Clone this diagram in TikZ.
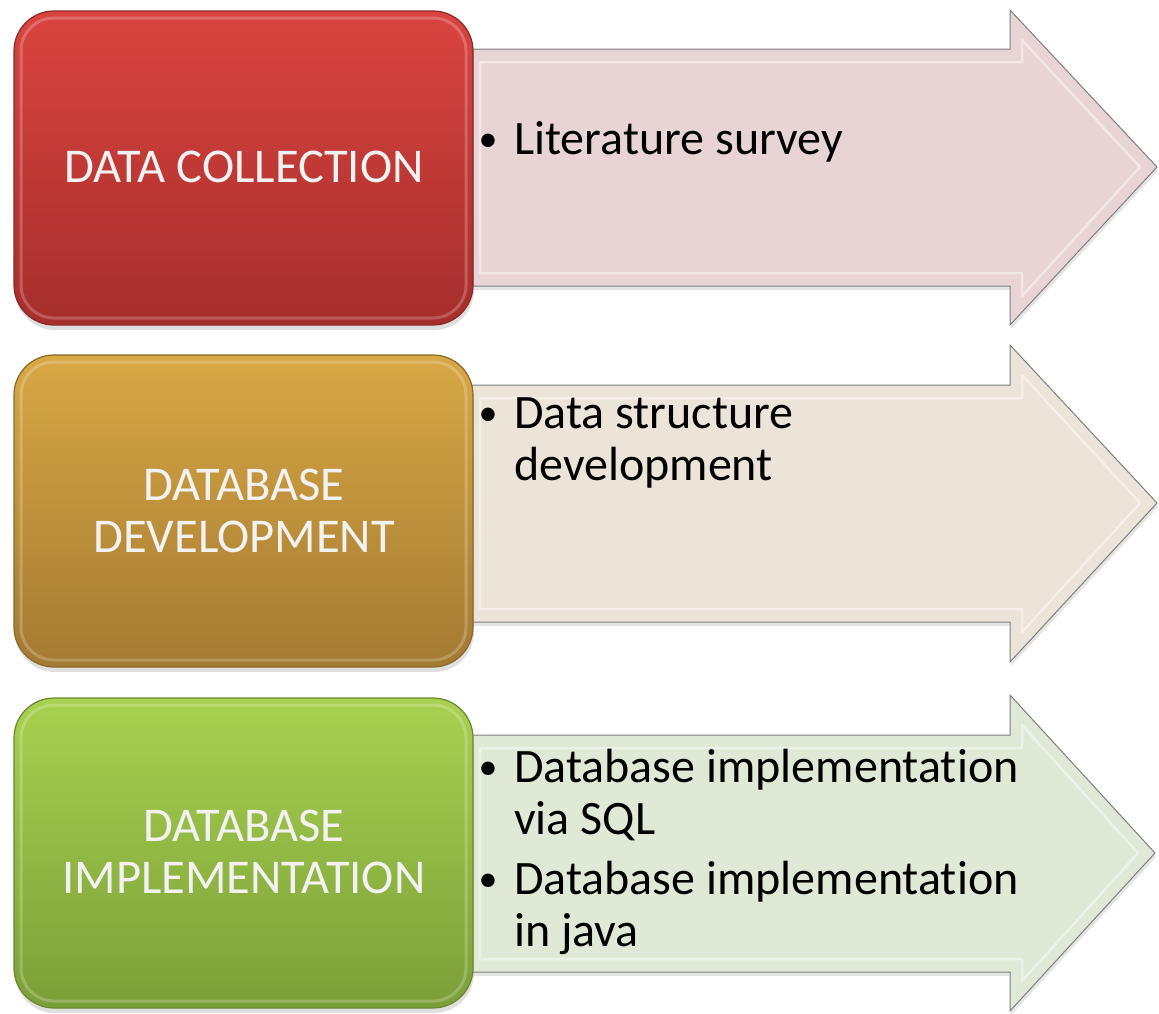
\documentclass[tikz,border=0pt]{standalone}
\usepackage{fontspec}
\setmainfont[Ligatures=NoCommon]{Carlito}
\usetikzlibrary{shadows}
\definecolor{redtop}{HTML}{DA4440}
\definecolor{redbot}{HTML}{A52E2B}
\definecolor{goldtop}{HTML}{D8A845}
\definecolor{goldbot}{HTML}{A47A32}
\definecolor{greentop}{HTML}{A8D150}
\definecolor{greenbot}{HTML}{7B9F38}
\definecolor{pinkfill}{HTML}{E8D4D4}
\definecolor{beigefill}{HTML}{EBE4D8}
\definecolor{sagefill}{HTML}{E0E9D6}
\definecolor{boxtext}{HTML}{F2F2F2}
\definecolor{rimgray}{HTML}{7F7F7F}
\begin{document}
\begin{tikzpicture}[x=1pt,y=-1pt,
  stagebox/.style={rounded corners=40pt, line width=1.2pt,
    drop shadow={shadow xshift=1pt, shadow yshift=-5pt, opacity=0.25}},
  boxbevel/.style={rounded corners=33pt, line width=3pt, draw=white, draw opacity=0.22},
  arrowbody/.style={draw=rimgray, line width=1pt,
    drop shadow={shadow xshift=1pt, shadow yshift=-4pt, opacity=0.2}},
  arrowbevel/.style={draw=white, line width=2.5pt, draw opacity=0.45, line join=round},
  boxlabel/.style={text=boxtext, font=\fontsize{48.5}{52}\selectfont, align=center, inner sep=0pt},
  bullettext/.style={text=black, font=\fontsize{48}{50}\selectfont, anchor=base west, inner sep=0pt},
  bulletdot/.style={text=black, font=\fontsize{38}{40}\selectfont, anchor=base, inner sep=0pt}
]
\useasboundingbox (0,0) rectangle (1159,1013);
\fill[white] (0,0) rectangle (1159,1013);

% ---------- arrows (behind boxes) ----------
% arrow 1
\path[arrowbody, fill=pinkfill] (465,49) -- (1010,49) -- (1010,10) -- (1157,167) -- (1010,325) -- (1010,286) -- (465,286) -- cycle;
\draw[arrowbevel] (480,62) -- (1022,62) -- (1022,40) -- (1140,167) -- (1022,296) -- (1022,273) -- (480,273) -- cycle;
% arrow 2
\path[arrowbody, fill=beigefill] (465,385) -- (1010,385) -- (1010,345) -- (1157,503) -- (1010,662) -- (1010,622) -- (465,622) -- cycle;
\draw[arrowbevel] (480,398) -- (1022,398) -- (1022,375) -- (1140,503) -- (1022,632) -- (1022,609) -- (480,609) -- cycle;
% arrow 3
\path[arrowbody, fill=sagefill] (465,735) -- (1010,735) -- (1010,695) -- (1155,853) -- (1010,1011) -- (1010,972) -- (465,972) -- cycle;
\draw[arrowbevel] (480,748) -- (1022,748) -- (1022,725) -- (1138,853) -- (1022,981) -- (1022,959) -- (480,959) -- cycle;

% ---------- boxes ----------
\path[stagebox, draw=redbot!85!black, top color=redtop, bottom color=redbot] (14,11) rectangle (473,325);
\draw[boxbevel] (21,18) rectangle (466,318);
\path[stagebox, draw=goldbot!85!black, top color=goldtop, bottom color=goldbot] (14,355) rectangle (473,667);
\draw[boxbevel] (21,362) rectangle (466,660);
\path[stagebox, draw=greenbot!85!black, top color=greentop, bottom color=greenbot] (14,698) rectangle (473,1008);
\draw[boxbevel] (21,705) rectangle (466,1001);

% ---------- box labels ----------
\node[boxlabel, anchor=base] (l1) at (244,182) {DATA COLLECTION};
\node[boxlabel, anchor=base] (l2a) at (244,500) {DATABASE};
\node[boxlabel, anchor=base] (l2b) at (244,552) {DEVELOPMENT};
\node[boxlabel, anchor=base] (l3a) at (244,841) {DATABASE};
\node[boxlabel, anchor=base] (l3b) at (244,893) {IMPLEMENTATION};

% ---------- bullet texts ----------
\node[bulletdot] (b1) at (488,151) {•};
\node[bullettext] (t1) at (514,154) {Literature survey};

\node[bulletdot] (b2) at (488,425) {•};
\node[bullettext] (t2a) at (514,428) {Data structure};
\node[bullettext] (t2b) at (514,480) {development};

\node[bulletdot] (b3) at (488,779) {•};
\node[bullettext] (t3a) at (514,782) {Database implementation};
\node[bullettext] (t3b) at (514,834) {via SQL};
\node[bulletdot] (b4) at (488,891) {•};
\node[bullettext] (t3c) at (514,894) {Database implementation};
\node[bullettext] (t3d) at (514,946) {in java};
\end{tikzpicture}
\end{document}
